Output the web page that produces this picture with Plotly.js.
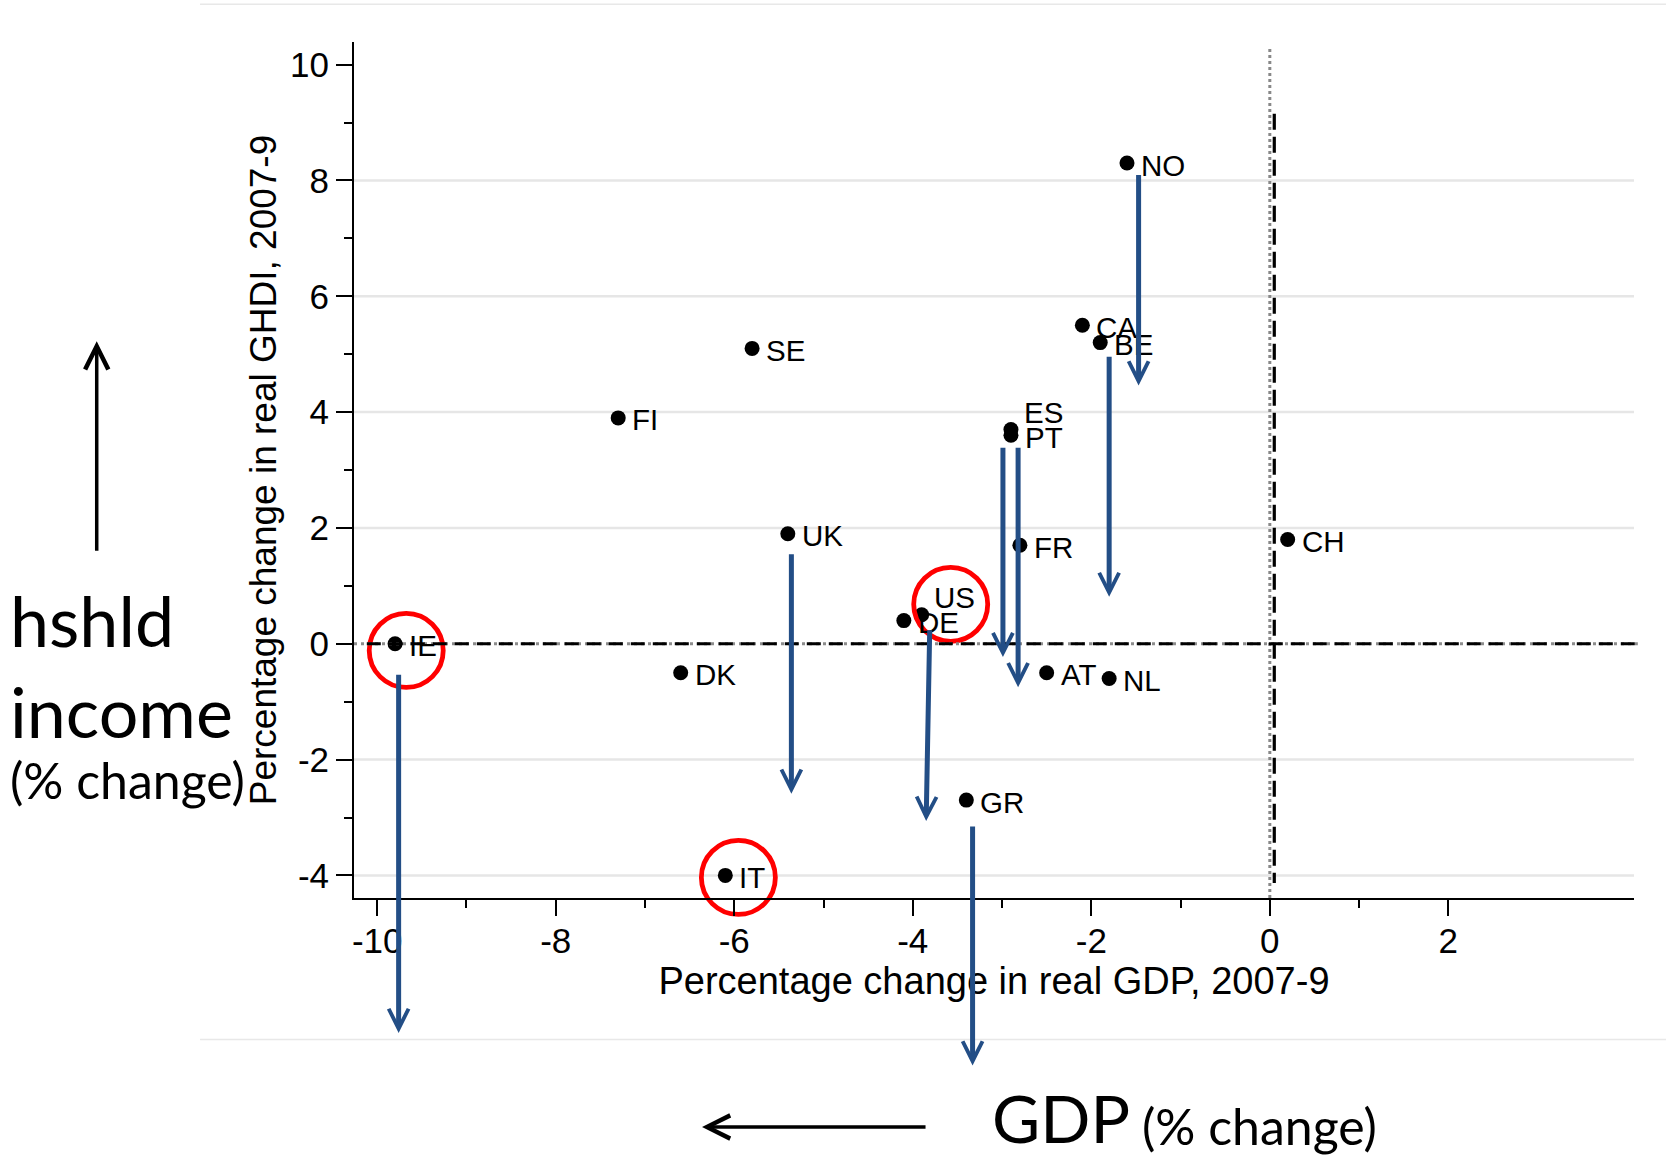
<!DOCTYPE html>
<html>
<head>
<meta charset="utf-8">
<script src="https://cdn.plot.ly/plotly-3.0.1.min.js"></script>
<style>html,body{margin:0;padding:0;background:#fff;}</style>
</head>
<body>
<div id="chart" style="width:1666px;height:1156px;"></div>
<script>
// ---------- data ----------
const countries = ['NO','CA','BE','SE','FI','ES','PT','UK','FR','CH','US','DE','IE','DK','AT','NL','GR','IT'];
const gdpChange = [-1.6,-2.1,-1.9,-5.8,-7.3,-2.9,-2.9,-5.4,-2.8,0.2,-3.9,-4.1,-9.8,-6.6,-2.5,-1.8,-3.4,-6.1];
const ghdiChange = [8.3,5.5,5.2,5.1,3.9,3.7,3.6,1.9,1.7,1.8,0.5,0.4,0.0,-0.5,-0.5,-0.6,-2.7,-4.0];

// label offsets (style, px)
const labelDx = [12,12,12,12,12,11,12,12,12,12,10,12,12,12,12,12,12,12];
const labelDy = [-2,-2,-2,-2,-2,17,-2,-2,-2,-2,17,-2,-2,-2,-2,-2,-2,-2];

// highlighted countries (red rings)
const ringX = [-9.675, -5.954, -3.575];
const ringY = [-0.115, -4.035, 0.68];

// blue arrows: gap between GHDI and a lower household-income measure
const arrowX0 = [-1.47, -1.80, -2.99, -2.82, -5.36, -3.81, -3.33, -9.76];
const arrowX1 = [-1.47, -1.80, -2.99, -2.82, -5.36, -3.85, -3.33, -9.76];
const arrowFrom = [8.12, 4.98, 3.41, 3.41, 1.57, 0.26, -3.13, -0.51];
const arrowTo = [4.46, 0.81, -0.23, -0.75, -2.59, -3.06, -7.28, -6.72];

// axes
const xTicks = [-10,-8,-6,-4,-2,0,2];
const xMinor = [-9,-7,-5,-3,-1,1];
const yTicks = [-4,-2,0,2,4,6,8,10];
const yMinor = [-3,-1,1,3,5,7,9];
const gridVals = [-4,-2,2,4,6,8];
const xRange = [-10.26, 4.08];
const yRange = [-4.39, 10.39];

// reference lines
const vDashX = 0.05, vDashFrom = 9.15, vDashTo = -4.13;

// ---------- traces ----------
const blue = '#234E86';
const traces = [
  {
    type:'scatter', mode:'markers',
    x: gdpChange, y: ghdiChange,
    marker:{size:15, color:'black'},
    cliponaxis:false, hoverinfo:'skip'
  },
  {
    type:'scatter', mode:'markers',
    x: ringX, y: ringY,
    marker:{symbol:'circle-open', size:74, color:'#FF0000', line:{width:4.8, color:'#FF0000'}},
    cliponaxis:false, hoverinfo:'skip'
  }
];

// ---------- shapes ----------
const shapes = [];
gridVals.forEach(v => shapes.push({type:'line', xref:'paper', yref:'y', x0:0, x1:1, y0:v, y1:v, layer:'below', line:{color:'#E6E6E6', width:2.5}}));
// grey dotted zero lines
shapes.push({type:'line', xref:'paper', yref:'y', x0:0, x1:1.003, y0:0, y1:0, line:{color:'#8C8C8C', width:3, dash:'3px,4px'}});
shapes.push({type:'line', xref:'x', yref:'paper', x0:0, x1:0, y0:0, y1:0.995, line:{color:'#888888', width:3, dash:'3px,3px'}});
// black dashed lines
shapes.push({type:'line', xref:'paper', yref:'y', x0:0.01, x1:1.003, y0:0, y1:0, line:{color:'#000000', width:3.2, dash:'14px,8px'}});
shapes.push({type:'line', xref:'x', yref:'y', x0:vDashX, x1:vDashX, y0:vDashFrom, y1:vDashTo, line:{color:'#000000', width:3.2, dash:'16px,7px'}});
// faint frame lines of the pasted picture
shapes.push({type:'line', xref:'paper', yref:'paper', x0:-0.1203, x1:1.03, y0:1.044, y1:1.044, line:{color:'#E8E8E8', width:1.5}});
shapes.push({type:'line', xref:'paper', yref:'paper', x0:-0.1203, x1:1.03, y0:-0.1654, y1:-0.1654, line:{color:'#E8E8E8', width:1.5}});

// ---------- annotations ----------
const annotations = [];
for (let i = 0; i < countries.length; i++) {
  annotations.push({
    xref:'x', yref:'y', x: gdpChange[i], y: ghdiChange[i],
    text: countries[i], showarrow:false, xanchor:'left', yanchor:'middle',
    xshift: labelDx[i], yshift: labelDy[i],
    font:{family:'Liberation Sans, Arial, sans-serif', size:29.5, color:'black'}
  });
}
for (let i = 0; i < arrowFrom.length; i++) {
  annotations.push({
    xref:'x', yref:'y', axref:'x', ayref:'y',
    x: arrowX1[i], y: arrowTo[i], ax: arrowX0[i], ay: arrowFrom[i],
    text:'', showarrow:true, arrowhead:5, arrowsize:0.78, arrowwidth:5,
    arrowcolor: blue, standoff:0, startstandoff:0
  });
}
const side = {family:'Lato, sans-serif', color:'black'};
annotations.push({xref:'paper', yref:'paper', x:-0.2010, y:0.6504, ax:0, ay:211, text:'', showarrow:true, arrowhead:5, arrowsize:1.3, arrowwidth:3.5, arrowcolor:'black', standoff:0});
annotations.push({xref:'paper', yref:'paper', x:0.2719, y:-0.2675, ax:225, ay:0, text:'', showarrow:true, arrowhead:5, arrowsize:1.3, arrowwidth:3.5, arrowcolor:'black', standoff:0});
annotations.push({xref:'paper', yref:'paper', x:-0.270, y:(897.7-620)/856, xanchor:'left', yanchor:'middle', text:'hshld', showarrow:false, font:Object.assign({size:70}, side)});
annotations.push({xref:'paper', yref:'paper', x:-0.270, y:(897.7-711)/856, xanchor:'left', yanchor:'middle', text:'income', showarrow:false, font:Object.assign({size:70}, side)});
annotations.push({xref:'paper', yref:'paper', x:-0.270, y:(897.7-780)/856, xanchor:'left', yanchor:'middle', text:'(% change)', showarrow:false, font:Object.assign({size:50}, side)});
annotations.push({xref:'paper', yref:'paper', x:(990-354)/1280, y:(897.7-1117.5)/856, xanchor:'left', yanchor:'middle', text:'GDP', showarrow:false, font:Object.assign({size:66}, side)});
annotations.push({xref:'paper', yref:'paper', x:(1140-354)/1280, y:(897.7-1125.6)/856, xanchor:'left', yanchor:'middle', text:'(% change)', showarrow:false, font:Object.assign({size:50}, side)});

// ---------- layout ----------
const axisCommon = {
  tickmode:'array', ticks:'outside', ticklen:16, tickwidth:2, tickcolor:'black',
  showline:true, linecolor:'black', linewidth:2, showgrid:false, zeroline:false,
  tickfont:{size:35, color:'black'}, automargin:false
};
const layout = {
  width:1666, height:1156,
  margin:{l:354, r:32, t:42, b:258, pad:0},
  paper_bgcolor:'white', plot_bgcolor:'white',
  showlegend:false,
  font:{family:'Liberation Sans, Arial, sans-serif', color:'black'},
  xaxis: Object.assign({}, axisCommon, {
    range:xRange, tickvals:xTicks, ticktext:xTicks.map(String), ticklabelstandoff:-5,
    title:{text:'Percentage change in real GDP, 2007-9', font:{size:38, color:'black'}, standoff:0},
    minor:{tickmode:'array', tickvals:xMinor, ticks:'outside', ticklen:8, tickwidth:2, tickcolor:'black', showgrid:false}
  }),
  yaxis: Object.assign({}, axisCommon, {
    range:yRange, tickvals:yTicks, ticktext:yTicks.map(String),
    title:{text:'Percentage change in real GHDI, 2007-9', font:{size:37, color:'black'}, standoff:2},
    minor:{tickmode:'array', tickvals:yMinor, ticks:'outside', ticklen:8, tickwidth:2, tickcolor:'black', showgrid:false}
  }),
  shapes: shapes,
  annotations: annotations
};

Plotly.newPlot('chart', traces, layout, {displayModeBar:false, staticPlot:true});
</script>
</body>
</html>
